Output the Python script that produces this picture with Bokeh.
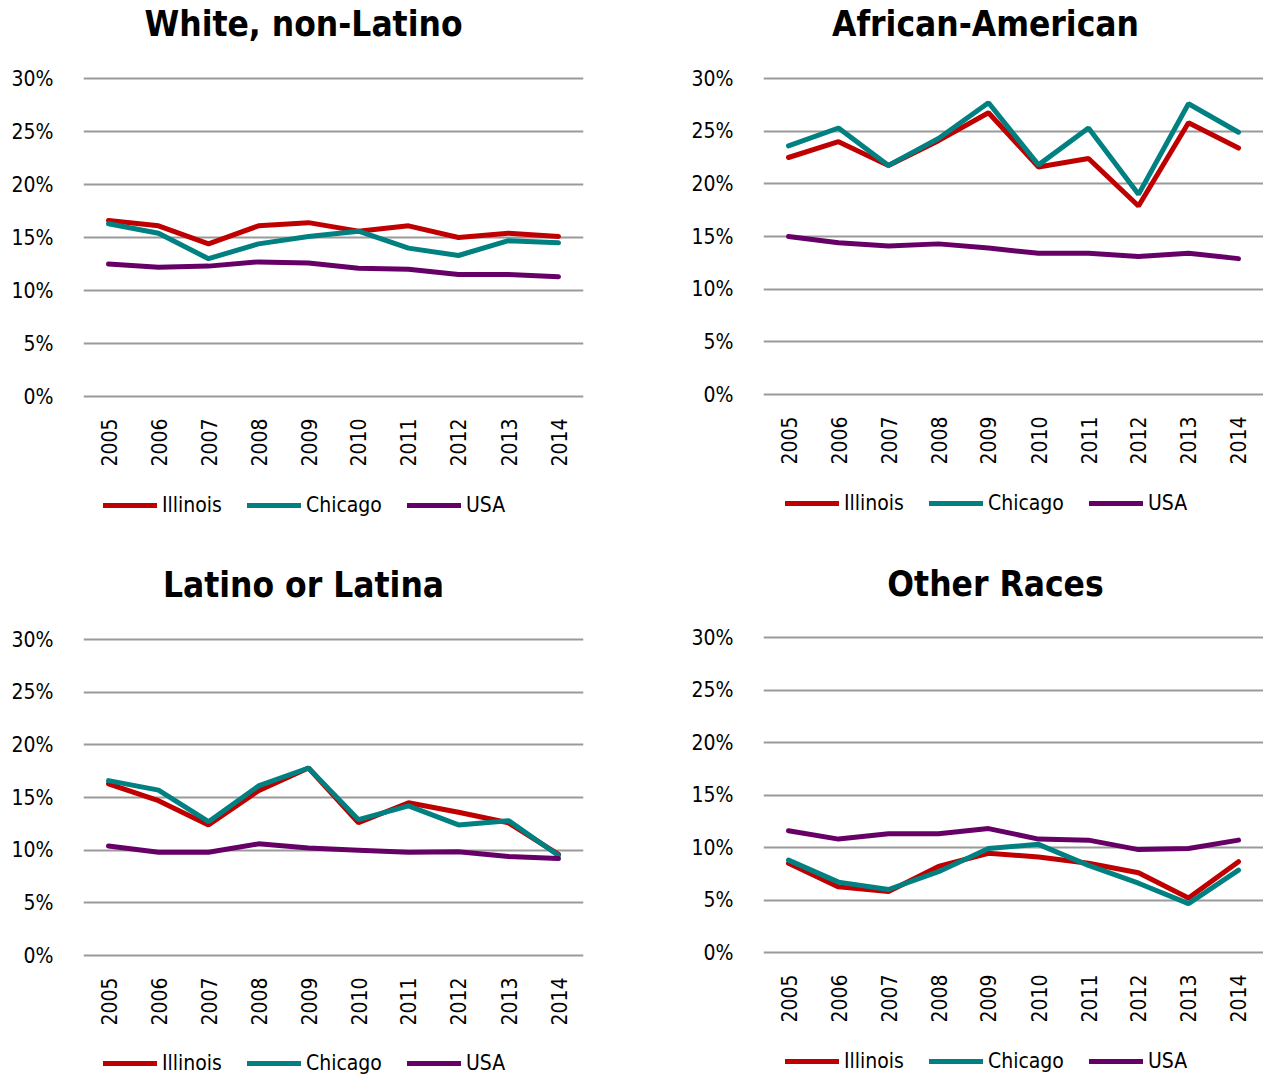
from bokeh.plotting import figure
from bokeh.layouts import column, row
from bokeh.models import (Legend, LegendItem, FixedTicker, PrintfTickFormatter, Range1d, Label)
from bokeh.embed import file_html
from bokeh.resources import INLINE

years = [2005, 2006, 2007, 2008, 2009, 2010, 2011, 2012, 2013, 2014]
series_names = ["Illinois", "Chicago", "USA"]
y_ticks = [0, 5, 10, 15, 20, 25, 30]
titles = ["White, non-Latino", "African-American", "Latino or Latina", "Other Races"]

white_illinois = [16.6, 16.1, 14.4, 16.1, 16.4, 15.6, 16.1, 15.0, 15.4, 15.1]
white_chicago = [16.3, 15.4, 13.0, 14.4, 15.1, 15.6, 14.0, 13.3, 14.7, 14.5]
white_usa = [12.5, 12.2, 12.3, 12.7, 12.6, 12.1, 12.0, 11.5, 11.5, 11.3]

black_illinois = [22.5, 24.0, 21.75, 24.1, 26.75, 21.6, 22.4, 17.9, 25.8, 23.4]
black_chicago = [23.6, 25.3, 21.75, 24.3, 27.7, 21.8, 25.3, 19.0, 27.6, 24.9]
black_usa = [15.0, 14.4, 14.1, 14.3, 13.9, 13.4, 13.4, 13.1, 13.4, 12.9]

latino_illinois = [16.3, 14.7, 12.4, 15.65, 17.8, 12.6, 14.5, 13.6, 12.6, 9.6]
latino_chicago = [16.6, 15.7, 12.7, 16.1, 17.8, 12.9, 14.2, 12.4, 12.8, 9.5]
latino_usa = [10.4, 9.8, 9.8, 10.6, 10.2, 10.0, 9.8, 9.85, 9.4, 9.2]

other_illinois = [8.5, 6.25, 5.8, 8.2, 9.45, 9.1, 8.5, 7.6, 5.2, 8.65]
other_chicago = [8.8, 6.7, 6.0, 7.7, 9.9, 10.3, 8.3, 6.6, 4.65, 7.85]
other_usa = [11.6, 10.8, 11.3, 11.3, 11.8, 10.8, 10.7, 9.8, 9.9, 10.7]

colors = ["#C00000", "#008080", "#660066"]
FONT = "DejaVu Sans Condensed, DejaVu Sans"


def blank(width, height, bl):
    f = figure(width=width, height=height, output_backend="svg", toolbar_location=None,
               x_range=Range1d(0, 1), y_range=Range1d(100, 101),
               min_border_left=bl, min_border_right=0, min_border_top=0,
               min_border_bottom=0)
    f.axis.visible = False
    f.grid.grid_line_color = None
    f.outline_line_color = None
    f.background_fill_color = "white"
    f.border_fill_color = "white"
    return f


def title_fig(text, width, height, bl, cx, cy):
    f = blank(width, height, bl)
    f.add_layout(Label(x=cx, y=cy, x_units="screen", y_units="screen", text=text,
                       text_align="center", text_baseline="middle",
                       text_font=FONT, text_font_size="35px", text_font_style="bold",
                       text_color="#000000"))
    return f


def main_fig(il, chi, usa, width, height, bl, bt, span):
    ppu = span / 30.0
    y0 = -3.0 / ppu
    y1 = 30.0 + 4.0 / ppu
    fh = span + 7
    bb = height - bt - fh
    p = figure(width=width, height=height, output_backend="svg", toolbar_location=None,
               x_range=Range1d(2004.5, 2014.5), y_range=Range1d(y0, y1),
               min_border_left=bl, min_border_right=width - bl - 500,
               min_border_top=bt, min_border_bottom=bb)
    p.outline_line_color = None
    p.background_fill_color = "white"
    p.border_fill_color = "white"
    p.xgrid.grid_line_color = None
    p.ygrid.grid_line_color = "#9a9a9a"
    p.ygrid.grid_line_width = 2
    p.yaxis.ticker = FixedTicker(ticks=y_ticks)
    p.yaxis.formatter = PrintfTickFormatter(format="%d%%")
    p.xaxis.ticker = FixedTicker(ticks=years)
    p.xaxis.major_label_orientation = 1.5707963
    for ax in (p.xaxis, p.yaxis):
        ax.axis_line_color = None
        ax.major_tick_line_color = None
        ax.minor_tick_line_color = None
        ax.major_label_text_font = FONT
        ax.major_label_text_font_size = "21px"
        ax.major_label_text_color = "#000000"
    p.yaxis.major_label_standoff = 24
    p.xaxis.major_label_standoff = 13
    for vals, c in zip((il, chi, usa), colors):
        p.line(years, vals, line_color=c, line_width=5, line_cap="round")
    return p


def legend_fig(il, chi, usa, width, height, bl, x, y):
    lf = blank(width, height, bl)
    lf.x_range = Range1d(2004.5, 2014.5)
    items = []
    for name, vals, c in zip(series_names, (il, chi, usa), colors):
        # series drawn outside this strip's range: only the legend swatch shows
        r = lf.line(years, vals, line_color=c, line_width=5, line_cap="round")
        items.append(LegendItem(label=name, renderers=[r]))
    leg = Legend(items=items, orientation="horizontal", location=(x, y),
                 glyph_width=54, glyph_height=20, label_standoff=5, spacing=25,
                 padding=0, margin=0, border_line_alpha=0, background_fill_alpha=0,
                 label_text_font=FONT, label_text_font_size="21px",
                 label_text_color="#000000")
    lf.add_layout(leg)
    return lf


WL, WR = 630, 633
BL, BR = 83, 133

col1 = column(title_fig(titles[0], WL, 60, BL, 220, 36.5),
              main_fig(white_illinois, white_chicago, white_usa, WL, 412, BL, 14, 318),
              legend_fig(white_illinois, white_chicago, white_usa, WL, 68, BL, 20, 23))
col2 = column(title_fig(titles[1], WR, 60, BR, 222, 36.5),
              main_fig(black_illinois, black_chicago, black_usa, WR, 412, BR, 14, 316),
              legend_fig(black_illinois, black_chicago, black_usa, WR, 68, BR, 22, 25))
col3 = column(title_fig(titles[2], WL, 64, BL, 220, 19.5),
              main_fig(latino_illinois, latino_chicago, latino_usa, WL, 425, BL, 31, 316),
              legend_fig(latino_illinois, latino_chicago, latino_usa, WL, 47, BL, 20, 1))
col4 = column(title_fig(titles[3], WR, 64, BR, 232, 20.5),
              main_fig(other_illinois, other_chicago, other_usa, WR, 425, BR, 29, 315),
              legend_fig(other_illinois, other_chicago, other_usa, WR, 47, BR, 22, 3))

layout = column(row(col1, col2), row(col3, col4))
open("out.html", "w").write(file_html(layout, INLINE))
